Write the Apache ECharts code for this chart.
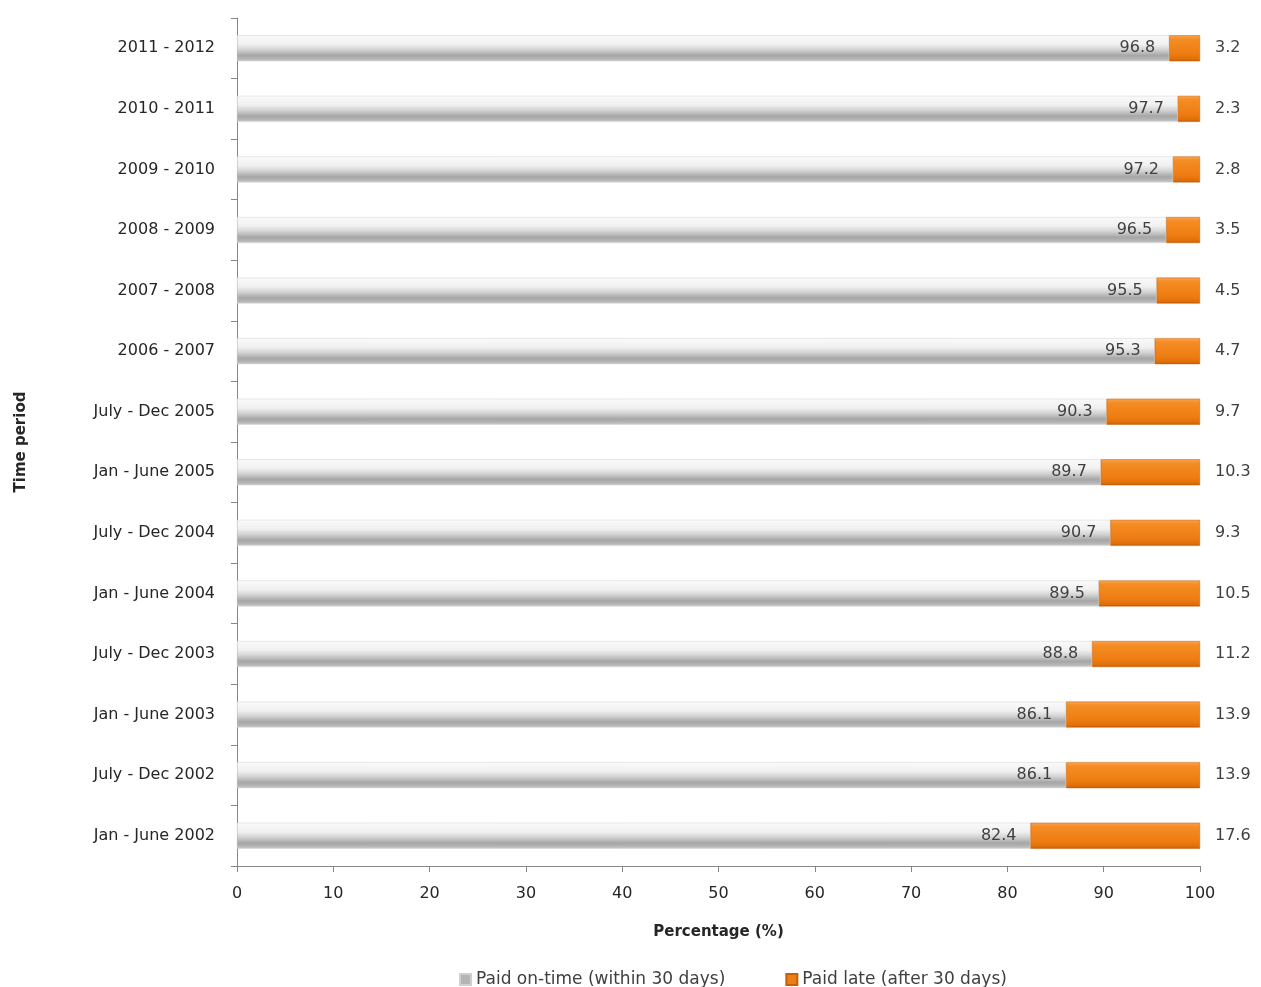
<!DOCTYPE html>
<html><head><meta charset="utf-8">
<script src="https://cdn.jsdelivr.net/npm/echarts@6/dist/echarts.min.js"></script>
<style>html,body{margin:0;padding:0;background:#fff}#c{width:1261px;height:987px}</style>
</head><body><div id="c"></div>
<script>
const categories = ["2011 - 2012","2010 - 2011","2009 - 2010","2008 - 2009","2007 - 2008","2006 - 2007","July - Dec 2005","Jan - June 2005","July - Dec 2004","Jan - June 2004","July - Dec 2003","Jan - June 2003","July - Dec 2002","Jan - June 2002"];
const onTime = [96.8,97.7,97.2,96.5,95.5,95.3,90.3,89.7,90.7,89.5,88.8,86.1,86.1,82.4];
const late = [3.2,2.3,2.8,3.5,4.5,4.7,9.7,10.3,9.3,10.5,11.2,13.9,13.9,17.6];
const xTicks = [0,10,20,30,40,50,60,70,80,90,100];
const FONT = "DejaVu Sans";
const chart = echarts.init(document.getElementById('c'));
const greyGrad = new echarts.graphic.LinearGradient(0,0,0,1,[
  {offset:0,color:'#fafafa'},{offset:0.35,color:'#f0f0f0'},{offset:0.55,color:'#d4d4d4'},{offset:0.78,color:'#a6a6a6'},{offset:0.9,color:'#b4b4b4'},{offset:1,color:'#cdcdcd'}]);
const orangeGrad = new echarts.graphic.LinearGradient(0,0,0,1,[
  {offset:0,color:'#f9a557'},{offset:0.15,color:'#f48d24'},{offset:0.7,color:'#ee7d12'},{offset:0.9,color:'#e2700a'},{offset:1,color:'#c45f07'}]);
chart.setOption({
  animation:false,
  textStyle:{fontFamily:FONT},
  grid:{left:237,right:61,top:18,bottom:121},
  legend:{
    top:966,left:454,itemGap:60,itemWidth:11,itemHeight:11,
    icon:'rect',
    textStyle:{fontFamily:FONT,fontSize:17,color:'#404040'},
    data:[{name:'Paid on-time (within 30 days)',itemStyle:{color:'#b5b5b5'}},{name:'Paid late (after 30 days)',itemStyle:{color:'#ee7d12'}}]
  },
  xAxis:{
    type:'value',min:0,max:100,interval:10,
    name:'Percentage (%)',nameLocation:'middle',nameGap:59,
    nameTextStyle:{fontFamily:FONT,fontSize:15,fontWeight:'bold',color:'#262626'},
    axisLine:{show:true,lineStyle:{color:'#868686'}},
    axisTick:{show:true,length:6,lineStyle:{color:'#868686'}},
    axisLabel:{fontFamily:FONT,fontSize:16,color:'#262626',margin:20,formatter:v=>xTicks.includes(v)?String(v):''},
    splitLine:{show:false}
  },
  yAxis:{
    type:'category',data:categories,inverse:true,
    name:'Time period',nameLocation:'middle',nameGap:208,nameRotate:90,
    nameTextStyle:{fontFamily:FONT,fontSize:15,fontWeight:'bold',color:'#262626'},
    axisLine:{show:true,lineStyle:{color:'#868686'}},
    axisTick:{show:true,length:6,alignWithLabel:false,lineStyle:{color:'#868686'}},
    axisLabel:{fontFamily:FONT,fontSize:16,color:'#262626',margin:22}
  },
  series:[
    {name:'Paid on-time (within 30 days)',type:'bar',stack:'t',barWidth:26,data:onTime,
     itemStyle:{color:greyGrad,borderColor:'#d0d0d0',borderWidth:0.5},
     label:{show:true,position:'insideRight',distance:14,fontFamily:FONT,fontSize:16,color:'#404040'}},
    {name:'Paid late (after 30 days)',type:'bar',stack:'t',barWidth:26,data:late,
     itemStyle:{color:orangeGrad,borderColor:'#c55f08',borderWidth:0.5},
     label:{show:true,position:'right',distance:15,fontFamily:FONT,fontSize:16,color:'#404040'}}
  ]
});
</script></body></html>
